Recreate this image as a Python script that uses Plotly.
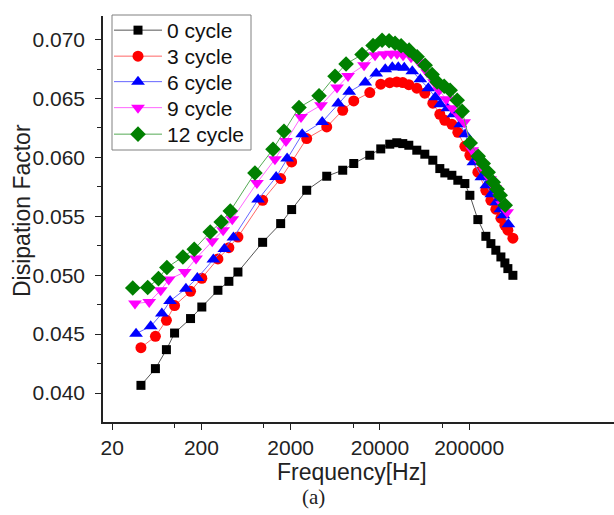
import plotly.graph_objects as go

# Frequencies (Hz) per series
freq_0 = [42, 61, 81, 100, 151, 202, 306, 406, 513, 970, 1545, 2051, 3024, 5070, 7660, 10180,
          15390, 20440, 25790, 30900, 36060, 42130, 51800, 63700, 78300, 93800, 106700, 128000,
          149300, 179000, 203700, 250400, 307700, 350300, 398000, 453600, 502600, 543000, 618000]
freq_3 = list(freq_0)
freq_6 = [37, 54, 72, 89, 134, 180, 272, 361, 457, 863, 1375, 1825, 2691, 4512, 6817, 9060,
          13700, 18190, 22950, 27500, 32090, 37500, 46100, 56690, 69690, 83480, 94960, 113900,
          132900, 159300, 181300, 222900, 273900, 311800, 354200, 403700, 447300, 483300, 550000]
freq_9 = [36, 52, 70, 86, 130, 174, 264, 350, 443, 837, 1333, 1770, 2610, 4375, 6611, 8785,
          13280, 17640, 22260, 26670, 31120, 36360, 44700, 54970, 67570, 80950, 92080, 110500,
          128800, 154500, 175800, 216100, 265500, 302300, 343500, 391500, 433700, 468600, 533300]
freq_12 = [34, 50, 66, 82, 124, 166, 251, 333, 421, 795, 1267, 1682, 2480, 4157, 6281, 8348,
           12620, 16760, 21150, 25340, 29570, 34550, 42480, 52230, 64210, 76920, 87490, 105000,
           122400, 146800, 167000, 205300, 252300, 287200, 326400, 372000, 412100, 445300, 506800]

df_0 = [0.04065, 0.04207, 0.04368, 0.04509, 0.04632, 0.04730, 0.04872, 0.04948, 0.05027, 0.05279,
        0.05438, 0.05557, 0.05721, 0.05840, 0.05891, 0.05948, 0.06018, 0.06072, 0.06112, 0.06124,
        0.06117, 0.06103, 0.06061, 0.06027, 0.05976, 0.05905, 0.05868, 0.05848, 0.05806, 0.05778,
        0.05678, 0.05472, 0.05330, 0.05268, 0.05212, 0.05155, 0.05104, 0.05056, 0.04999]
df_3 = [0.04385, 0.04481, 0.04617, 0.04742, 0.04863, 0.04974, 0.05138, 0.05234, 0.05324, 0.05636,
        0.05820, 0.05961, 0.06160, 0.06258, 0.06400, 0.06479, 0.06550, 0.06621, 0.06634, 0.06640,
        0.06635, 0.06617, 0.06587, 0.06545, 0.06460, 0.06366, 0.06315, 0.06281, 0.06213, 0.06094,
        0.06018, 0.05874, 0.05721, 0.05636, 0.05560, 0.05484, 0.05424, 0.05382, 0.05314]
df_6 = [0.04504, 0.04566, 0.04674, 0.04781, 0.04886, 0.04976, 0.05133, 0.05223, 0.05319, 0.05642,
        0.05834, 0.05990, 0.06196, 0.06301, 0.06457, 0.06556, 0.06635, 0.06712, 0.06748, 0.06765,
        0.06765, 0.06761, 0.06731, 0.06663, 0.06587, 0.06510, 0.06451, 0.06418, 0.06366, 0.06281,
        0.06196, 0.05958, 0.05831, 0.05763, 0.05687, 0.05619, 0.05560, 0.05509, 0.05432]
df_9 = [0.04759, 0.04773, 0.04872, 0.04963, 0.05027, 0.05141, 0.05288, 0.05381, 0.05475, 0.05783,
        0.05984, 0.06139, 0.06343, 0.06443, 0.06593, 0.06691, 0.06782, 0.06867, 0.06876, 0.06880,
        0.06880, 0.06867, 0.06850, 0.06808, 0.06723, 0.06638, 0.06570, 0.06493, 0.06418, 0.06350,
        0.06298, 0.06060, 0.05950, 0.05882, 0.05814, 0.05738, 0.05670, 0.05602, 0.05534]
df_12 = [0.04891, 0.04895, 0.04971, 0.05065, 0.05155, 0.05220, 0.05367, 0.05452, 0.05545, 0.05868,
         0.06069, 0.06222, 0.06423, 0.06523, 0.06689, 0.06793, 0.06873, 0.06949, 0.06994, 0.06990,
         0.06969, 0.06948, 0.06910, 0.06854, 0.06782, 0.06703, 0.06640, 0.06604, 0.06570, 0.06485,
         0.06392, 0.06123, 0.06010, 0.05948, 0.05874, 0.05789, 0.05729, 0.05678, 0.05594]

series_names = ["0 cycle", "3 cycle", "6 cycle", "9 cycle", "12 cycle"]
x_tickvals = [20, 200, 2000, 20000, 200000]
x_ticktext = ["20", "200", "2000", "20000", "200000"]
x_minorvals = [100, 1000, 10000, 100000]
y_tickvals = [0.040, 0.045, 0.050, 0.055, 0.060, 0.065, 0.070]

FONT = "Liberation Sans, Arial, sans-serif"

styles = [
    dict(color="#000000", line="#555555", symbol="square", size=9),
    dict(color="#ff0000", line="#ff6666", symbol="circle", size=11),
    dict(color="#0000ff", line="#6666ff", symbol="triangle-up", size=12),
    dict(color="#ff00ff", line="#ff66ff", symbol="triangle-down", size=12),
    dict(color="#008000", line="#55aa55", symbol="diamond", size=12),
]
xs = [freq_0, freq_3, freq_6, freq_9, freq_12]
ys = [df_0, df_3, df_6, df_9, df_12]

W, H = 614, 515
l, r, t, b = 103, 0, 16, 93
pw, ph = W - l - r, H - t - b


def px2paper(px, py):
    return (px - l) / pw, (H - b - py) / ph


legend_ids = ["legend", "legend2", "legend3", "legend4", "legend5"]
legend_item_y = [30.5, 56.5, 82, 108, 134.5]

fig = go.Figure()
for name, x, y, st, lid in zip(series_names, xs, ys, styles, legend_ids):
    fig.add_trace(go.Scatter(
        x=x, y=y, name=name, mode="lines+markers", legend=lid,
        line=dict(color=st["line"], width=1),
        marker=dict(symbol=st["symbol"], size=st["size"], color=st["color"], line=dict(width=0)),
    ))

legend_layouts = {}
for lid, iy in zip(legend_ids, legend_item_y):
    lx, ly = px2paper(109, iy)
    legend_layouts[lid] = dict(
        x=lx, y=ly, xanchor="left", yanchor="middle",
        bgcolor="rgba(0,0,0,0)", borderwidth=0,
        font=dict(family=FONT, size=21, color="#111111"),
        itemwidth=48,
    )

bx0, by0 = px2paper(112, 150)
bx1, by1 = px2paper(251, 15)

fig.update_layout(
    width=W, height=H,
    margin=dict(l=l, r=r, t=t, b=b, autoexpand=False),
    paper_bgcolor="white", plot_bgcolor="white",
    font=dict(family=FONT, size=21, color="#222222"),
    showlegend=True,
    **legend_layouts,
    shapes=[dict(type="rect", xref="paper", yref="paper", x0=bx0, y0=by0, x1=bx1, y1=by1,
                 line=dict(color="#808080", width=1), fillcolor="white", layer="above")],
    xaxis=dict(
        type="log", range=[1.198, 6.924], automargin=False,
        tickmode="array", tickvals=x_tickvals, ticktext=x_ticktext,
        ticks="outside", ticklen=6, tickwidth=1.2, tickcolor="#222",
        showline=True, linecolor="#222", linewidth=1.5,
        showgrid=False, zeroline=False,
        minor=dict(tickmode="array", tickvals=x_minorvals, ticks="outside", ticklen=4,
                   tickwidth=1.2, tickcolor="#222", showgrid=False),
        tickfont=dict(family=FONT, size=21, color="#222"),
    ),
    yaxis=dict(
        range=[0.03754, 0.0720], automargin=False,
        tickmode="array", tickvals=y_tickvals, tickformat=".3f",
        ticks="outside", ticklen=6, tickwidth=1.2, tickcolor="#222",
        showline=True, linecolor="#222", linewidth=1.5,
        showgrid=False, zeroline=False,
        minor=dict(dtick=0.0025, ticks="outside", ticklen=4, tickwidth=1.2, tickcolor="#222",
                   showgrid=False),
        tickfont=dict(family=FONT, size=21, color="#222"),
        ticklabelstandoff=6,
    ),
)

ann_specs = [
    ("Frequency[Hz]", 352, 472, 0, FONT, 23),
    ("Disipation Factor", 22, 211, -90, FONT, 23),
    ("(a)", 313, 497, 0, "Liberation Serif, Times New Roman, serif", 21),
]
for text, px, py, ang, fam, sz in ann_specs:
    ax, ay = px2paper(px, py)
    fig.add_annotation(text=text, x=ax, y=ay, xref="paper", yref="paper", showarrow=False,
                       textangle=ang, xanchor="center", yanchor="middle",
                       font=dict(family=fam, size=sz, color="#222"))

fig.write_html("out.html", config={"displayModeBar": False},
               post_script="document.body.style.margin='0';document.body.style.padding='0';")
